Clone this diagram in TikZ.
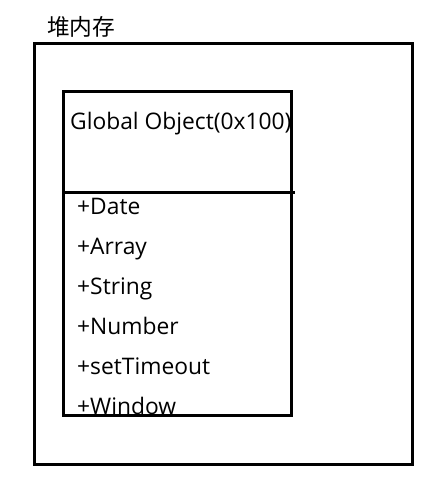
\documentclass[tikz,border=0pt]{standalone}
\usepackage{fontspec}
\setmainfont{Open Sans}
\newfontfamily\cjk{Noto Sans CJK SC}
\tikzset{
  box/.style={draw=black, line width=3pt},
  label/.style={anchor=base west, inner sep=0pt, font=\fontsize{22.8}{26}\selectfont},
  item/.style={label}
}
\begin{document}
\begin{tikzpicture}[x=1pt,y=-1pt]
\useasboundingbox (0,0) rectangle (441,483);
\node[label, font=\cjk\fontsize{22.7}{26}\selectfont] (heap) at (47,35) {堆内存};
\node[label] (title) at (70,129) {Global Object(0x100)};
\node[item] (date) at (77,214) {+Date};
\node[item] (array) at (77,254) {+Array};
\node[item] (string) at (77,294) {+String};
\node[item] (number) at (77,334) {+Number};
\node[item] (timeout) at (77,374) {+setTimeout};
\node[item] (window) at (77,414) {+Window};
\draw[box] (34,43) rectangle (412,464);
\draw[box] (63,91.5) rectangle (291.5,415);
\coordinate (divL) at (63,192);
\coordinate (divR) at (295,192);
\draw[box] (divL) -- (divR);
\end{tikzpicture}
\end{document}
